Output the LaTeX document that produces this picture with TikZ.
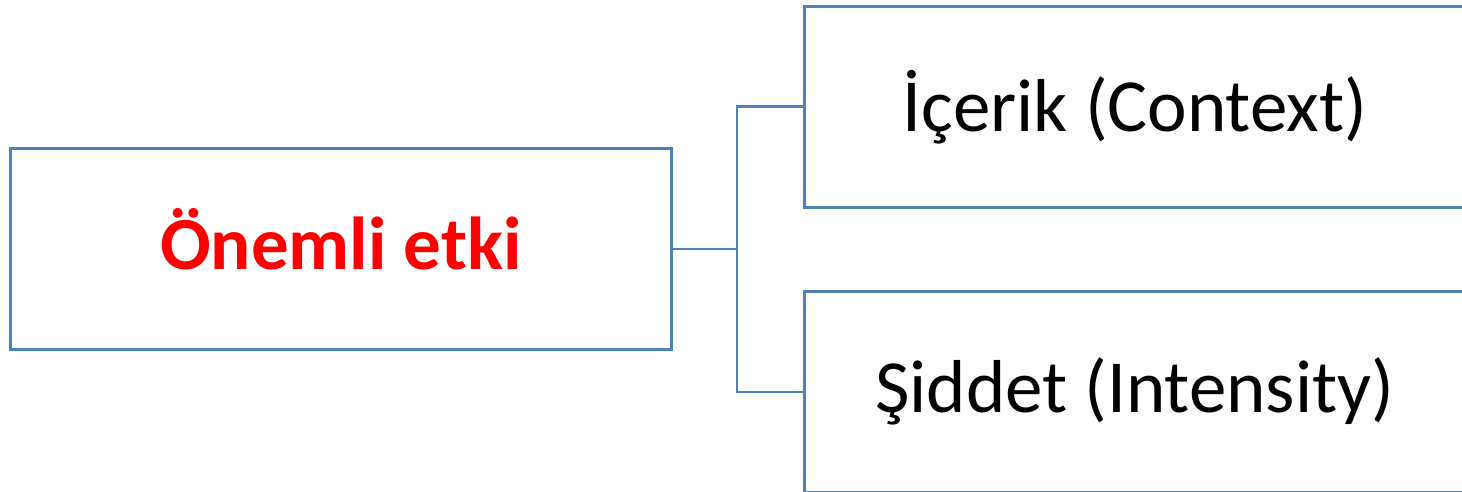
\documentclass[tikz,border=0pt]{standalone}
\usepackage{fontspec}
\setmainfont{Carlito}
\definecolor{boxblue}{RGB}{79,129,189}
\definecolor{textred}{RGB}{255,0,0}
\begin{document}
\begin{tikzpicture}[x=1pt,y=-1pt,
  box/.style={draw=boxblue,line width=2.6pt,minimum width=661pt,minimum height=201pt,inner sep=0pt,anchor=north west,font=\fontsize{75}{80}\selectfont},
  link/.style={draw=boxblue,line width=2.6pt}]
\clip (0,0) rectangle (1462,492);
\fill[white] (0,0) rectangle (1462,492);
\node[box,text=textred,font=\fontsize{75}{80}\selectfont\bfseries] (main) at (9,147) {\raisebox{20pt}{Önemli etki}};
\node[box] (ctx) at (803,5) {İçerik (Context)};
\node[box] (int) at (803,290) {Şiddet (Intensity)};
\coordinate (j) at (main.east -| 737,0);
\draw[link] (main.east) -- (j);
\draw[link] (ctx.west) -| (j) |- (int.west);
\end{tikzpicture}
\end{document}
